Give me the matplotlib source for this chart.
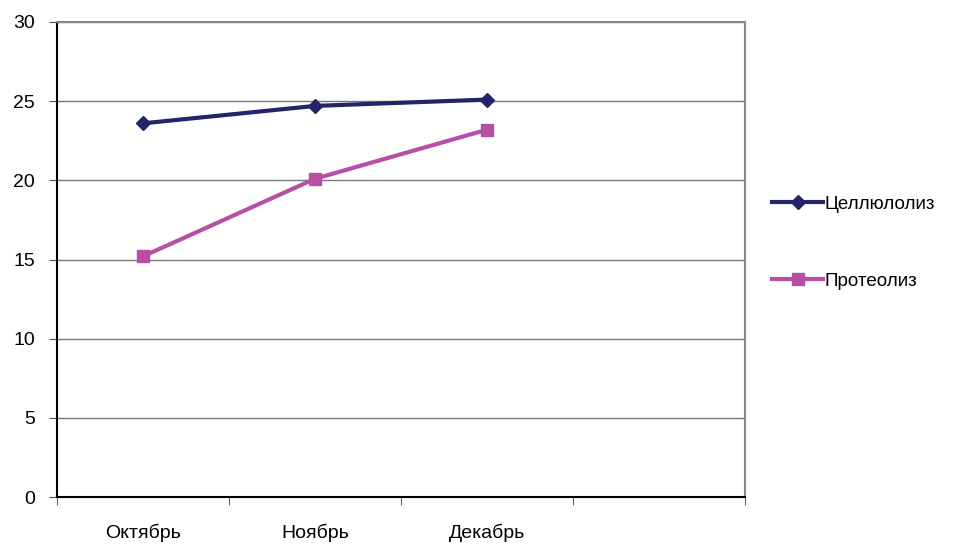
import matplotlib.pyplot as plt

plt.rcParams['font.family'] = ['Liberation Sans', 'DejaVu Sans']

months = ["Октябрь", "Ноябрь", "Декабрь", ""]
cellulolysis = [23.6, 24.7, 25.1]
proteolysis = [15.2, 20.1, 23.2]
yticks = [0, 5, 10, 15, 20, 25, 30]

fig = plt.figure(figsize=(9.56, 5.44), dpi=100)
ax = fig.add_axes([57 / 956, 47 / 544, 688 / 956, 475 / 544])

x = list(range(len(cellulolysis)))
ax.plot(x, cellulolysis, color="#232568", lw=3, marker="D", ms=7,
        label="Целлюлолиз")
ax.plot(x, proteolysis, color="#b550a4", lw=3, marker="s", ms=9,
        label="Протеолиз")

ax.set_xlim(-0.5, len(months) - 0.5)
ax.set_ylim(0, 30)
ax.set_yticks(yticks)
ax.yaxis.grid(True, color="#777777", lw=1)
ax.set_axisbelow(True)

# category labels in the middle, tick marks at the borders
ax.set_xticks([i - 0.5 for i in range(len(months) + 1)])
ax.set_xticklabels([])
ax.set_xticks(range(len(months)), minor=True)
ax.set_xticklabels(months, minor=True, fontsize=14,
                   family=["Liberation Sans Narrow", "Liberation Sans", "DejaVu Sans"])
ax.tick_params(axis="x", which="minor", length=0, pad=19)
ax.tick_params(axis="x", which="major", length=6, color="#666666")
ax.tick_params(axis="y", length=6, pad=10, labelsize=14, color="#555555")

for side in ["top", "right"]:
    ax.spines[side].set_color("#888888")
    ax.spines[side].set_linewidth(1.5)
ax.spines["left"].set_linewidth(1.5)
ax.spines["bottom"].set_linewidth(1.5)

ax.legend(loc="center left", bbox_to_anchor=(1.015, 0.535), frameon=False,
          fontsize=13.5, handlelength=2.7, handletextpad=0.1, labelspacing=3.2)

fig.savefig("out.png", dpi=100)
